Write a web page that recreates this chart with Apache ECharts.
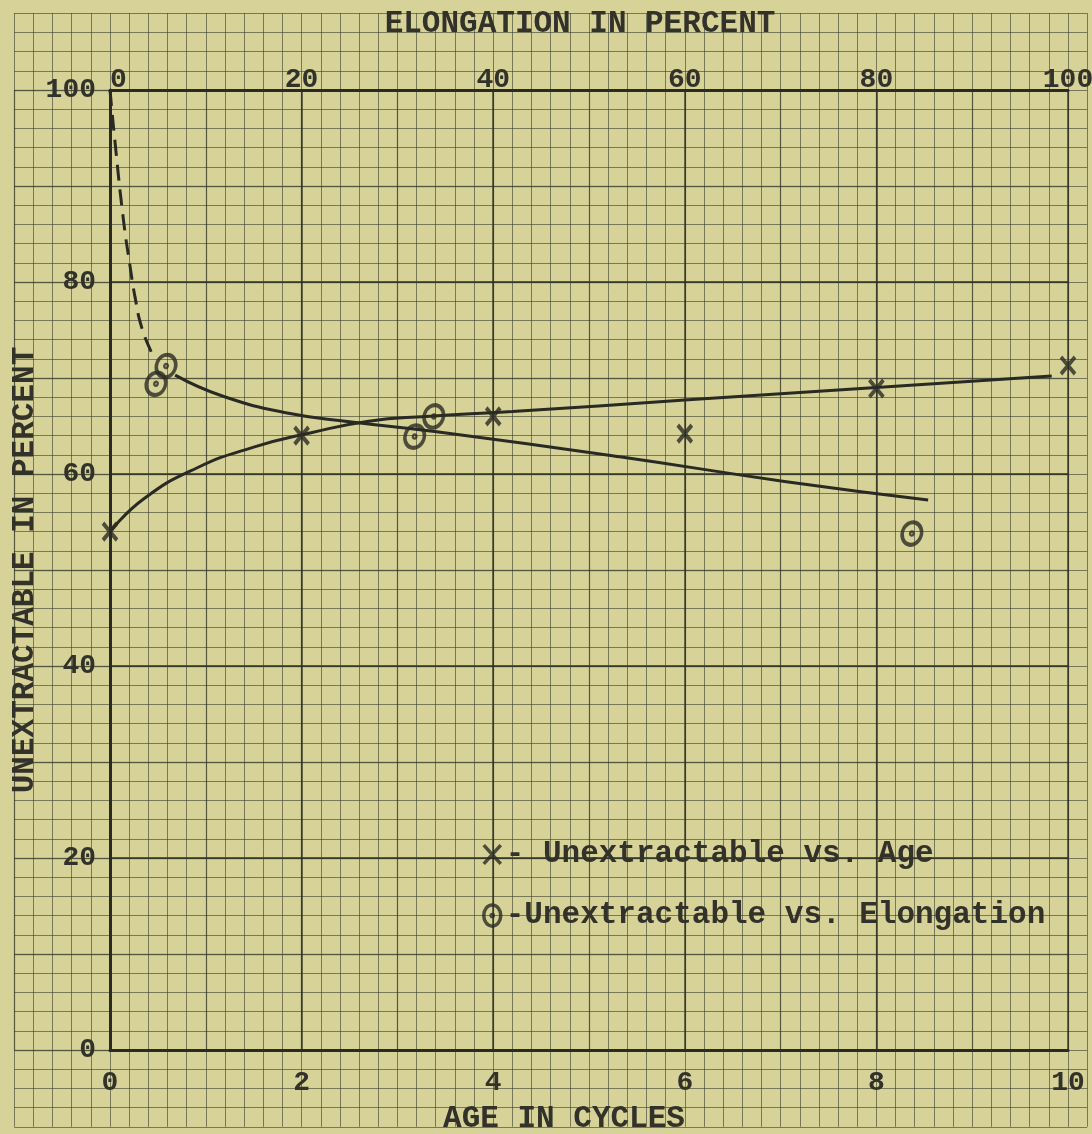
<!DOCTYPE html>
<html><head><meta charset="utf-8">
<script src="https://cdn.jsdelivr.net/npm/echarts@6/dist/echarts.min.js"></script>
<style>html,body{margin:0;padding:0;background:#d6d298}#c{width:1092px;height:1134px}</style>
</head><body><div id="c"></div>
<script>
// ---- data ----
const ageTicks = [0, 2, 4, 6, 8, 10];
const elongTicks = [0, 20, 40, 60, 80, 100];
const pctTicks = [0, 20, 40, 60, 80, 100];

const seriesAgeName = 'Unextractable vs. Age';
const seriesElongName = 'Unextractable vs. Elongation';

// X points: unextractable vs age (cycles)
const ageX = [0, 2, 4, 6, 8, 10];
const ageY = [54, 64, 66, 64.2, 68.9, 71.3];
// O points: unextractable vs elongation (%)
const elongX = [4.8, 5.85, 31.8, 33.8, 83.7];
const elongY = [69.4, 71.25, 63.9, 66, 53.8];

// hand-drawn curve through X points (age)
const ageCurveX = [0, 0.35, 0.9, 1.5, 2.1, 2.7, 3.3, 4.2, 6.0, 8.0, 9.83];
const ageCurveY = [54, 57.4, 60.6, 62.8, 64.3, 65.5, 66.0, 66.5, 67.7, 69.0, 70.2];
// hand-drawn curve through O points (elongation): dashed start, then solid
const elongDashX = [0, 0.5, 1.4, 2.1, 2.6, 3.3, 4.35, 4.6];
const elongDashY = [100, 94.8, 86.5, 81.6, 78.5, 75.3, 72.6, 72.2];
const elongCurveX = [6.8, 11.8, 18.8, 25.0, 34.1, 53.2, 70.6, 85.4];
const elongCurveY = [70.3, 68.1, 66.3, 65.45, 64.4, 61.8, 59.2, 57.3];

// ---- styling ----
const INK = '#2a2a24';
const TXT = '#32322b';
const FONT = '"Liberation Mono", "DejaVu Sans Mono", monospace';
const X_PATH = 'path://M0,0L10,11M10,0L0,11';
const O_PATH = 'path://M2,12A8,10,0,1,1,18,12A8,10,0,1,1,2,12ZM9,12A1,1,0,1,1,11,12A1,1,0,1,1,9,12Z';

const zip = (a, b) => a.map((v, i) => [v, b[i]]);

// graph paper: 5 minor cells per age unit (per 10 %) horizontally and vertically
const PLOT = {left: 110, top: 90, width: 958, height: 960};
const cellW = PLOT.width / 50, cellH = PLOT.height / 50;
// [xMin, xMax, yMin, yMax] in cells, chosen so every visible line lies inside the canvas
const paperLevels = [
  {interval: 1, range: [-5, 51, -4, 54], color: 'rgba(55,60,45,0.6)', width: 1},
  {interval: 5, range: [-5, 50, 0, 50], color: 'rgba(50,54,40,0.5)', width: 1.3},
  {interval: 10, range: [0, 50, 0, 50], color: 'rgba(40,44,32,0.7)', width: 1.8}
];

const grids = [{left: PLOT.left, top: PLOT.top, width: PLOT.width, height: PLOT.height, outerBoundsMode: 'none', containLabel: false}];
const labelStyle = {color: TXT, fontFamily: FONT, fontSize: 28, fontWeight: 'bold'};
const nameStyle = {color: TXT, fontFamily: FONT, fontSize: 31, fontWeight: 'bold'};
const xAxes = [
  {gridIndex: 0, type: 'value', min: ageTicks[0], max: ageTicks[ageTicks.length - 1], interval: ageTicks[1] - ageTicks[0],
   position: 'bottom', z: 5,
   axisLine: {show: true, lineStyle: {color: INK, width: 3}}, axisTick: {show: false}, splitLine: {show: false},
   axisLabel: Object.assign({margin: 19}, labelStyle),
   name: 'AGE IN CYCLES', nameLocation: 'middle', nameGap: 54,
   nameTextStyle: Object.assign({padding: [0, 50, 0, 0]}, nameStyle)},
  {gridIndex: 0, type: 'value', min: elongTicks[0], max: elongTicks[elongTicks.length - 1], interval: elongTicks[1] - elongTicks[0],
   position: 'top', z: 5,
   axisLine: {show: true, lineStyle: {color: INK, width: 3}}, axisTick: {show: false}, splitLine: {show: false},
   axisLabel: Object.assign({margin: -4, alignMinLabel: 'left'}, labelStyle),
   name: 'ELONGATION IN PERCENT', nameLocation: 'middle', nameGap: 50,
   nameTextStyle: Object.assign({padding: [0, 18, 0, 0]}, nameStyle)}
];
const yAxes = [
  {gridIndex: 0, type: 'value', min: pctTicks[0], max: pctTicks[pctTicks.length - 1], interval: pctTicks[1] - pctTicks[0],
   position: 'left', z: 5,
   axisLine: {show: true, lineStyle: {color: INK, width: 3}}, axisTick: {show: false}, splitLine: {show: false},
   axisLabel: Object.assign({margin: 14}, labelStyle),
   name: 'UNEXTRACTABLE IN PERCENT', nameLocation: 'middle', nameGap: 69, nameRotate: 90, nameMoveOverlap: false,
   nameTextStyle: nameStyle}
];
paperLevels.forEach((lv, i) => {
  const gi = i + 1;
  const [x0, x1, y0, y1] = lv.range;
  grids.push({
    left: PLOT.left + x0 * cellW, width: (x1 - x0) * cellW,
    top: PLOT.top + (50 - y1) * cellH, height: (y1 - y0) * cellH,
    outerBoundsMode: 'none', containLabel: false
  });
  const common = {gridIndex: gi, type: 'value', interval: lv.interval, z: 0, silent: true,
    axisLine: {show: false}, axisTick: {show: false}, axisLabel: {show: false},
    splitLine: {show: true, showMinLine: true, showMaxLine: true, lineStyle: {color: lv.color, width: lv.width}}};
  xAxes.push(Object.assign({min: x0, max: x1}, common));
  yAxes.push(Object.assign({min: y0, max: y1}, common));
});

const option = {
  backgroundColor: '#d6d298',
  animation: false,
  grid: grids,
  xAxis: xAxes,
  yAxis: yAxes,
  legend: {
    orient: 'vertical', left: 477, top: 834, itemGap: 30, itemWidth: 17, itemHeight: 22,
    textStyle: {color: TXT, fontFamily: FONT, fontSize: 31, fontWeight: 'bold'},
    formatter: n => (n === seriesAgeName ? '- ' : '-') + n,
    data: [
      {name: seriesAgeName, icon: X_PATH, itemStyle: {color: 'transparent', borderColor: INK, borderWidth: 3.5}},
      {name: seriesElongName, icon: O_PATH, itemStyle: {color: 'transparent', borderColor: INK, borderWidth: 3.5}}
    ]
  },
  series: [
    {type: 'line', xAxisIndex: 0, yAxisIndex: 0, data: zip(ageCurveX, ageCurveY), smooth: 0.5,
     showSymbol: false, lineStyle: {color: INK, width: 3}, z: 3, silent: true},
    {type: 'line', xAxisIndex: 1, yAxisIndex: 0, data: zip(elongDashX, elongDashY), smooth: 0.5,
     showSymbol: false, lineStyle: {color: INK, width: 3, type: [16, 9]}, z: 3, silent: true},
    {type: 'line', xAxisIndex: 1, yAxisIndex: 0, data: zip(elongCurveX, elongCurveY), smooth: 0.5,
     showSymbol: false, lineStyle: {color: INK, width: 3}, z: 3, silent: true},
    {name: seriesAgeName, type: 'scatter', xAxisIndex: 0, yAxisIndex: 0, data: zip(ageX, ageY), clip: false,
     symbol: X_PATH, symbolSize: [14, 17], itemStyle: {color: 'transparent', borderColor: INK, borderWidth: 4}, z: 4},
    {name: seriesElongName, type: 'scatter', xAxisIndex: 1, yAxisIndex: 0, data: zip(elongX, elongY), clip: false,
     symbol: O_PATH, symbolSize: [19, 23], symbolRotate: -20,
     itemStyle: {color: 'transparent', borderColor: INK, borderWidth: 3.8}, z: 4}
  ]
};
const chart = echarts.init(document.getElementById('c'), null, {renderer: 'canvas'});
chart.setOption(option);
</script>
</body></html>
